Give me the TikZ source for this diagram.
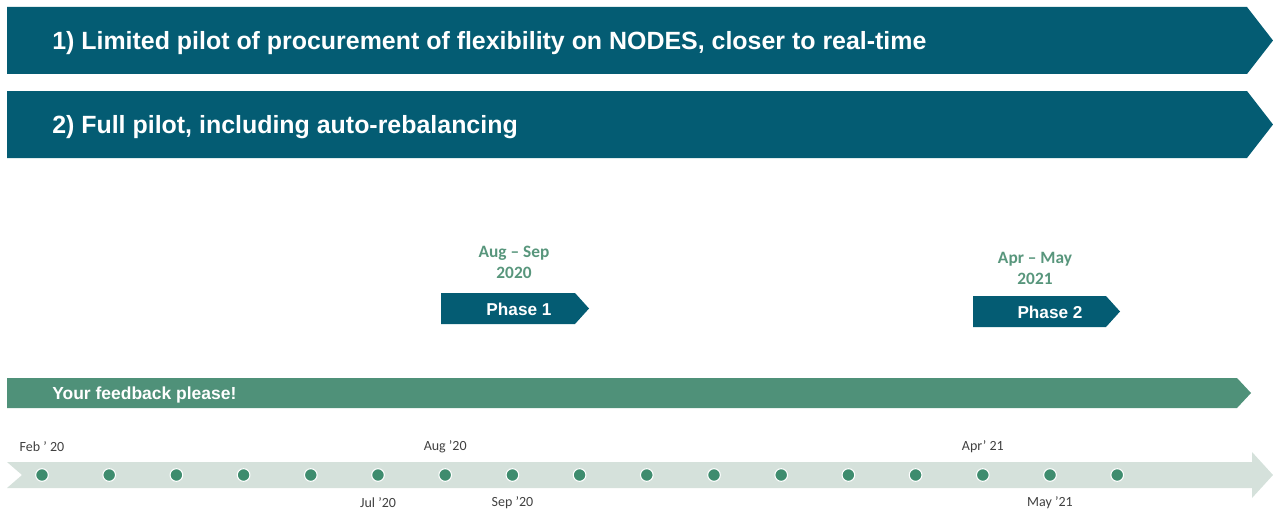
\documentclass[tikz,border=0pt]{standalone}
\usepackage{fontspec}
\setmainfont{Liberation Sans}
\newfontfamily\calibfont{Carlito}
\definecolor{bannerblue}{RGB}{4,92,115}
\definecolor{feedgreen}{RGB}{79,145,121}
\definecolor{bandgrey}{RGB}{213,225,219}
\definecolor{dotgreen}{RGB}{62,140,110}
\definecolor{dategreen}{RGB}{88,150,124}
\definecolor{lblgrey}{RGB}{64,64,64}
\tikzset{
  banner/.style = {fill=bannerblue},
  feedbar/.style = {fill=feedgreen},
  band/.style = {fill=bandgrey},
  bar_txt/.style = {anchor=west, inner sep=0pt, white,
    font=\fontsize{18.7}{22}\selectfont\bfseries},
  phase_txt/.style = {inner sep=0pt, white,
    font=\fontsize{12.9}{15}\selectfont\bfseries},
  feed_txt/.style = {anchor=west, inner sep=0pt, white,
    font=\fontsize{13.1}{15}\selectfont\bfseries},
  date_txt/.style = {align=center, inner sep=0pt, dategreen,
    font=\calibfont\fontsize{13}{15.75}\selectfont\bfseries},
  tick_lbl/.style = {inner sep=0pt, lblgrey,
    font=\calibfont\fontsize{10.5}{12}\selectfont},
  tl_dot/.style = {circle, fill=dotgreen, draw=white, line width=0.8pt,
    minimum size=9.5pt, inner sep=0pt}
}
\begin{document}
\begin{tikzpicture}[x=0.75pt,y=-0.75pt]
  \useasboundingbox (0,0) rectangle (1273,510);
  \fill[banner] (7,7) -- (1247,7) -- (1273,40.5) -- (1247,74) -- (7,74) -- cycle;
  \fill[banner] (7,91) -- (1247,91) -- (1273,124.5) -- (1247,158) -- (7,158) -- cycle;
  \node[bar_txt] (step1) at (52,43.5)
    {1) Limited pilot of procurement of flexibility on NODES, closer to real-time};
  \node[bar_txt] (step2) at (52,127.5) {2) Full pilot, including auto-rebalancing};

  \fill[banner] (441,293) -- (575,293) -- (589,308.5) -- (575,324) -- (441,324) -- cycle;
  \node[phase_txt] (ph1) at (519,309.5) {Phase 1};
  \node[date_txt] (ph1date) at (514,262) {Aug – Sep\\2020};
  \fill[banner] (973,296) -- (1106,296) -- (1120,311.5) -- (1106,327) -- (973,327) -- cycle;
  \node[phase_txt] (ph2) at (1050,312.5) {Phase 2};
  \node[date_txt] (ph2date) at (1035,268) {Apr – May\\2021};

  \fill[feedbar] (7,378) -- (1237,378) -- (1251,393) -- (1237,408) -- (7,408) -- cycle;
  \node[feed_txt] (feedback) at (52,394.5) {Your feedback please!};

  \fill[band] (7,462) -- (1252,462) -- (1252,452) -- (1273,475) -- (1252,498)
    -- (1252,488) -- (7,488) -- (22,475) -- cycle;
  \foreach \i in {0,...,16}
    \node[tl_dot] (d\i) at ({42+67.2*\i},475) {};
  \node[tick_lbl] (feb) at ([yshift=21pt]d0) {Feb ’ 20};
  \node[tick_lbl] (aug) at ([yshift=21pt]d6) {Aug ’20};
  \node[tick_lbl] (apr) at ([yshift=21pt]d14) {Apr’ 21};
  \node[tick_lbl] (jul) at ([yshift=-21pt]d5) {Jul ’20};
  \node[tick_lbl] (sep) at ([yshift=-21pt]d7) {Sep ’20};
  \node[tick_lbl] (may) at ([yshift=-21pt]d15) {May ’21};
\end{tikzpicture}
\end{document}
